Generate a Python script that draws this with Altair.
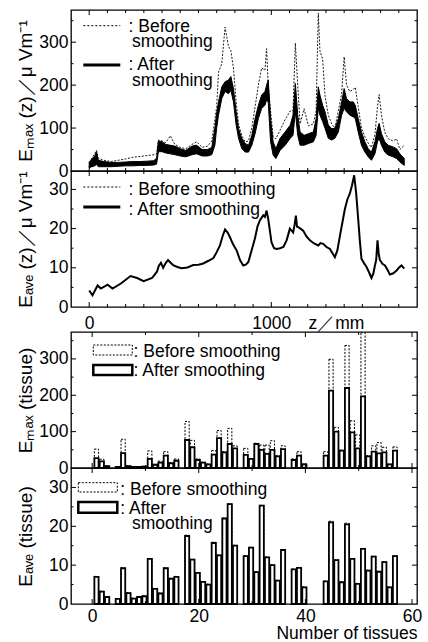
import altair as alt
import pandas as pd

FONT = "Liberation Sans"

# ---------------- Panel 1 : Emax(z) ----------------
z1 = [0, 15, 30, 40, 50, 80, 120, 160, 200, 240, 280, 320, 355, 370, 380, 400, 420, 445, 470, 500,
      530, 565, 590, 620, 650, 673, 690, 700, 710, 728, 746, 765, 778, 792, 807, 820, 838, 857, 875,
      893, 911, 929, 947, 965, 974, 983, 996, 1010, 1025, 1048, 1076, 1104, 1119, 1132, 1145, 1158,
      1180, 1204, 1231, 1246, 1258, 1267, 1282, 1295, 1313, 1331, 1349, 1368, 1386, 1400, 1413, 1431,
      1450, 1461, 1477, 1495, 1514, 1532, 1550, 1569, 1583, 1592, 1605, 1623, 1642, 1669, 1688, 1706, 1730]
emax_after_lo = [8, 10, 12, 15, 10, 10, 10, 11, 12, 12, 13, 13, 14, 16, 45, 45, 42, 40, 38, 35,
                 33, 38, 40, 35, 35, 38, 60, 100, 130, 169, 185, 180, 188, 161, 107, 76, 52, 44, 44,
                 60, 87, 122, 146, 153, 165, 161, 68, 37, 29, 48, 60, 76, 83, 138, 83, 60,
                 60, 64, 68, 83, 146, 130, 115, 99, 76, 72, 76, 91, 130, 146, 138, 130,
                 126, 122, 91, 60, 44, 33, 25, 40, 68, 76, 60, 44, 37, 33, 29, 21, 13]
emax_after_hi = [20, 28, 35, 45, 25, 22, 20, 20, 21, 22, 22, 23, 24, 30, 70, 68, 62, 60, 58, 52,
                 48, 58, 60, 50, 50, 55, 100, 135, 161, 196, 208, 212, 220, 192, 138, 99, 76, 64, 60,
                 83, 122, 153, 177, 185, 200, 212, 122, 68, 52, 76, 91, 107, 130, 204, 130, 91,
                 83, 87, 91, 122, 196, 177, 153, 138, 107, 99, 99, 122, 161, 192, 169, 161,
                 161, 153, 122, 91, 68, 52, 44, 68, 99, 111, 87, 68, 60, 56, 52, 40, 29]
emax_before = [20, 30, 40, 48, 30, 25, 22, 25, 28, 32, 34, 36, 38, 40, 72, 70, 66, 82, 62, 55,
               52, 62, 68, 55, 58, 70, 120, 150, 230, 250, 335, 290, 280, 240, 160, 110, 82, 68, 70,
               100, 150, 200, 240, 235, 285, 200, 140, 80, 75, 95, 120, 140, 140, 298, 200, 110,
               145, 105, 110, 140, 368, 280, 260, 175, 130, 110, 100, 140, 180, 266, 200, 185,
               190, 195, 150, 100, 80, 65, 55, 85, 150, 178, 130, 90, 75, 70, 75, 50, 60]

# ---------------- Panel 2 : Eave(z) ----------------
z2 = [0, 18, 46, 64, 101, 128, 174, 227, 263, 299, 345, 372, 382, 394, 406, 420, 433, 447, 461, 484,
      507, 540, 571, 600, 626, 655, 682, 700, 718, 732, 746, 760, 773, 790, 810, 828, 846, 860, 874,
      892, 910, 924, 937, 947, 956, 965, 974, 983, 1001, 1015, 1029, 1048, 1066, 1084, 1102, 1120,
      1128, 1135, 1141, 1148, 1160, 1175, 1193, 1212, 1235, 1258, 1270, 1285, 1303, 1322, 1335, 1349,
      1363, 1377, 1390, 1404, 1418, 1431, 1443, 1455, 1466, 1477, 1486, 1495, 1509, 1523, 1537, 1550,
      1560, 1569, 1576, 1583, 1590, 1596, 1610, 1624, 1638, 1651, 1670, 1688, 1700, 1715, 1730]
eave_z = [4.2, 3.0, 5.5, 4.7, 5.7, 4.7, 6.0, 7.9, 7.4, 6.6, 7.4, 9.0, 10.5, 11.3, 10.0, 11.2, 12.0, 11.3, 10.7, 10.2,
          9.9, 10.1, 10.7, 10.8, 11.1, 11.8, 12.5, 14.0, 15.7, 18.0, 19.8, 19.0, 17.8, 16.0, 14.4, 12.0, 10.6, 10.8, 11.5,
          14.5, 17.5, 20.5, 22.1, 22.8, 23.4, 23.0, 24.6, 22.5, 16.5, 15.0, 14.8, 15.0, 15.3, 17.0, 20.0, 19.0,
          21.0, 23.3, 20.5, 20.4, 20.0, 19.5, 18.0, 17.0, 16.2, 15.7, 16.3, 16.1, 15.3, 14.8, 13.8, 12.7,
          14.5, 18.2, 21.5, 25.0, 27.5, 28.9, 31.0, 33.6, 29.0, 22.5, 17.0, 12.3, 11.2, 10.2, 8.8, 7.4,
          8.5, 10.6, 12.0, 17.0, 13.5, 12.0, 11.0, 10.6, 9.5, 8.3, 8.6, 9.3, 10.0, 10.6, 9.8]

# ---------------- Panels 3/4 : per tissue ----------------
tissue = [1, 2, 3, 5, 6, 7, 8, 9, 10, 11, 12, 13, 14, 15, 16, 18, 19, 20, 21, 22, 23, 24, 25, 26, 27,
          29, 30, 31, 32, 33, 34, 35, 36, 38, 39, 40, 44, 45, 46, 47, 48, 49, 50, 51, 52, 53, 54, 55, 56, 57]
emax_t_after = [27, 18, 5, 3, 41, 5, 3, 3, 4, 25, 9, 15, 34, 13, 20, 77, 57, 22, 15, 10, 37, 82, 43, 66, 54,
                36, 25, 66, 50, 39, 50, 32, 52, 22, 34, 10, 34, 213, 100, 48, 220, 98, 54, 197, 32, 45, 40, 43, 10, 48]
emax_t_before = [52, 24, 6, 3, 79, 6, 3, 3, 4, 47, 10, 19, 45, 14, 25, 128, 76, 25, 16, 11, 48, 103, 45, 109, 61,
                 54, 26, 68, 63, 63, 75, 34, 61, 25, 45, 11, 45, 299, 112, 49, 337, 130, 91, 372, 34, 61, 70, 57, 11, 58]
eave_t_after = [7, 3.2, 1.8, 1.3, 9.2, 2.8, 1.4, 1.8, 2, 11.6, 3.9, 2.7, 9.2, 6.5, 7, 17.5, 11.4, 8, 5.7, 5, 15.7,
                12.5, 22, 25.7, 15, 12.3, 14.5, 8.2, 25.3, 12, 10, 6, 13.9, 8.9, 9.3, 4.3, 5.8, 21, 11.3, 5.6, 20.5,
                11.6, 5.2, 14.2, 8.6, 12.2, 8.3, 10.8, 4.3, 12.3]
eave_t_before = [7.1, 3.3, 1.9, 1.3, 9.3, 2.9, 1.5, 1.9, 2.1, 11.7, 4.0, 2.8, 9.3, 6.6, 7.1, 17.7, 11.5, 8.1, 5.8, 5.1, 15.9,
                 12.6, 22.1, 25.8, 15.1, 12.4, 14.6, 8.3, 25.4, 12.1, 10.1, 6.1, 14.0, 9.0, 9.4, 4.4, 5.9, 21.3, 11.4, 5.7, 20.8,
                 11.7, 5.3, 14.3, 8.7, 12.3, 8.4, 10.9, 4.4, 12.4]

W = 346
H1, H2, H3, H4 = 161, 136, 136, 136
GAP = 25
LBL = 17.5

zscale = alt.Scale(domain=[-100, 1800], nice=False, zero=False)
tscale = alt.Scale(domain=[-3.03, 60], nice=False, zero=False)
y1scale = alt.Scale(domain=[0, 375], nice=False)
y2scale = alt.Scale(domain=[0, 34.7], nice=False)
y3scale = alt.Scale(domain=[0, 374], nice=False)
y4scale = alt.Scale(domain=[0, 35], nice=False)


def yaxis(vals, title):
    return alt.Axis(values=vals, title=title, titleX=-46, titleBaseline="middle", labelPadding=3)


ax_y1 = yaxis([0, 100, 200, 300], "Eₘₐₓ (z)／μ Vm⁻¹")
ax_y2 = yaxis([0, 10, 20, 30], "Eₐᵥₑ (z)／μ Vm⁻¹")
ax_y3 = yaxis([0, 100, 200, 300], "Eₘₐₓ (tissue)")
ax_y4 = yaxis([0, 10, 20, 30], "Eₐᵥₑ (tissue)")
ax_x2 = alt.Axis(values=[0, 1000, 1355], format="d",
                 labelExpr="datum.value == 1355 ? 'z／mm' : datum.label",
                 labelPadding=7, labelOverlap=False, labelFlush=False, title=None)
ax_x4 = alt.Axis(values=[0, 20, 40, 60], labelPadding=3, labelFlush=False, labelOverlap=False,
                 title="Number of tissues", titleAnchor="end", titleAlign="right",
                 titleBaseline="top", titleY=20, titleFontSize=LBL)

one = pd.DataFrame({"k": [0]})


def tick_layers(xmaj, xmin, xscale, xax, ymaj, ymin, yscale, yax, H):
    out = []
    for vals, L in ((xmaj, 5), (xmin, 3)):
        base = alt.Chart(pd.DataFrame({"tv": vals})).mark_rule(color="black", strokeWidth=1)
        out.append(base.encode(x=alt.X("tv:Q", scale=xscale, axis=xax), y=alt.value(H), y2=alt.value(H - L)))
        out.append(base.encode(x=alt.X("tv:Q", scale=xscale, axis=xax), y=alt.value(0), y2=alt.value(L)))
    for vals, L in ((ymaj, 5), (ymin, 2.5)):
        base = alt.Chart(pd.DataFrame({"tv": vals})).mark_rule(color="black", strokeWidth=1)
        out.append(base.encode(y=alt.Y("tv:Q", scale=yscale, axis=yax), x=alt.value(0), x2=alt.value(L)))
        out.append(base.encode(y=alt.Y("tv:Q", scale=yscale, axis=yax), x=alt.value(W), x2=alt.value(W - L)))
    return out


def txt(s, x, y):
    return alt.Chart(one).mark_text(text=s, align="left", baseline="alphabetic", fontSize=LBL,
                                    font=FONT, color="black").encode(x=alt.value(x), y=alt.value(y))


def hline(x1, x2, y, w=1.0, dash=None):
    kw = {"strokeDash": dash} if dash else {}
    return alt.Chart(one).mark_rule(color="black", strokeWidth=w, **kw).encode(
        x=alt.value(x1), x2=alt.value(x2), y=alt.value(y))


def box(x1, x2, y1, y2, w=1.0, dash=None):
    kw = {"strokeDash": dash} if dash else {}
    return alt.Chart(one).mark_rect(fill="white", stroke="black", strokeWidth=w, **kw).encode(
        x=alt.value(x1), x2=alt.value(x2), y=alt.value(y1), y2=alt.value(y2))


ztick_maj = [0, 1000]
ztick_min = [v for v in range(100, 1800, 100) if v != 1000]
ttick_maj = [0, 20, 40, 60]
ttick_min = [10, 30, 50]

# ---- Panel 1
df1 = pd.DataFrame({"z": z1, "lo": emax_after_lo, "hi": emax_after_hi, "before": emax_before})
p1_before = alt.Chart(df1).mark_line(color="black", strokeWidth=0.9, strokeDash=[2, 1.5]).encode(
    x=alt.X("z:Q", scale=zscale, axis=None),
    y=alt.Y("before:Q", scale=y1scale, axis=ax_y1))
p1_after = alt.Chart(df1).mark_area(color="black", stroke="black", strokeWidth=1).encode(
    x=alt.X("z:Q", scale=zscale, axis=None),
    y=alt.Y("lo:Q", scale=y1scale, axis=ax_y1), y2="hi:Q")
P1 = alt.layer(
    p1_before, p1_after,
    *tick_layers(ztick_maj, ztick_min, zscale, None, [100, 200, 300], [50, 150, 250, 350], y1scale, ax_y1, H1),
    hline(12.3, 49.3, 15.7, 1, [2, 2]), txt(": Before", 57.6, 21.7), txt("smoothing", 61, 37.4),
    hline(12.3, 49.3, 55, 3), txt(": After", 57.6, 59.7), txt("smoothing", 61, 75.7),
).properties(width=W, height=H1)

# ---- Panel 2
df2 = pd.DataFrame({"z": z2, "e": eave_z})
p2_line = alt.Chart(df2).mark_line(color="black", strokeWidth=2).encode(
    x=alt.X("z:Q", scale=zscale, axis=ax_x2),
    y=alt.Y("e:Q", scale=y2scale, axis=ax_y2))
P2 = alt.layer(
    p2_line,
    *tick_layers(ztick_maj, ztick_min, zscale, ax_x2, [10, 20, 30], [5, 15, 25], y2scale, ax_y2, H2),
    hline(12.3, 49.3, 16, 1, [2, 2]), txt(": Before smoothing", 57.6, 23.7),
    hline(12.3, 49.3, 36, 3), txt(": After smoothing", 57.6, 43.7),
).properties(width=W, height=H2)

# ---- spacer between the two groups (holds the z axis labels)
spacer = alt.Chart(one).mark_point(opacity=0).encode(
    x=alt.value(0), y=alt.value(0)
).properties(width=W, height=GAP, view=alt.ViewBackground(stroke="transparent"))

# ---- Panel 3
df3 = pd.DataFrame({"t": tissue, "after": emax_t_after, "before": emax_t_before})
p3_before = alt.Chart(df3).mark_bar(orient="vertical", size=4.2, fill="white", stroke="black",
                                    strokeWidth=1, strokeDash=[2, 1.5], xOffset=-1).encode(
    x=alt.X("t:Q", scale=tscale, axis=None),
    y=alt.Y("before:Q", scale=y3scale, axis=ax_y3))
p3_after = alt.Chart(df3).mark_bar(orient="vertical", size=4.2, fill="white", stroke="black",
                                   strokeWidth=1.8, xOffset=-1).encode(
    x=alt.X("t:Q", scale=tscale, axis=None),
    y=alt.Y("after:Q", scale=y3scale, axis=ax_y3))
P3 = alt.layer(
    p3_before, p3_after,
    *tick_layers(ttick_maj, ttick_min, tscale, None, [100, 200, 300], [50, 150, 250, 350], y3scale, ax_y3, H3),
    box(22.3, 61.3, 13, 23, 1, [2, 1.5]), txt(": Before smoothing", 62.6, 25),
    box(22.3, 61.3, 33, 43, 2.5), txt(": After smoothing", 62.6, 44.3),
).properties(width=W, height=H3)

# ---- Panel 4
df4 = pd.DataFrame({"t": tissue, "after": eave_t_after, "before": eave_t_before})
p4_before = alt.Chart(df4).mark_bar(orient="vertical", size=4.2, fill="white", stroke="black",
                                    strokeWidth=1, strokeDash=[2, 1.5], xOffset=-1).encode(
    x=alt.X("t:Q", scale=tscale, axis=ax_x4),
    y=alt.Y("before:Q", scale=y4scale, axis=ax_y4))
p4_after = alt.Chart(df4).mark_bar(orient="vertical", size=4.2, fill="white", stroke="black",
                                   strokeWidth=1.8, xOffset=-1).encode(
    x=alt.X("t:Q", scale=tscale, axis=ax_x4),
    y=alt.Y("after:Q", scale=y4scale, axis=ax_y4))
P4 = alt.layer(
    p4_before, p4_after,
    *tick_layers(ttick_maj, ttick_min, tscale, ax_x4, [10, 20, 30], [5, 15, 25], y4scale, ax_y4, H4),
    box(7.3, 46.3, 14.7, 24, 1, [2, 1.5]), txt(": Before smoothing", 49.3, 26.7),
    box(7.3, 46.3, 34, 44.7, 2.5), txt(": After", 49.3, 45.7), txt("smoothing", 61, 61),
).properties(width=W, height=H4)

chart = alt.vconcat(P1, P2, spacer, P3, P4, spacing=0, bounds="flush").properties(
    padding={"left": 15, "top": 8, "right": 0, "bottom": 0}
).configure_view(stroke="black", strokeWidth=1.3).configure_axis(
    labelFont=FONT, titleFont=FONT, labelColor="black", titleColor="black",
    labelFontSize=LBL, titleFontSize=19, titleFontWeight="normal",
    grid=False, domain=False, ticks=False, tickSize=0
)

chart.save("out.html", embed_options={"renderer": "svg", "actions": False})
